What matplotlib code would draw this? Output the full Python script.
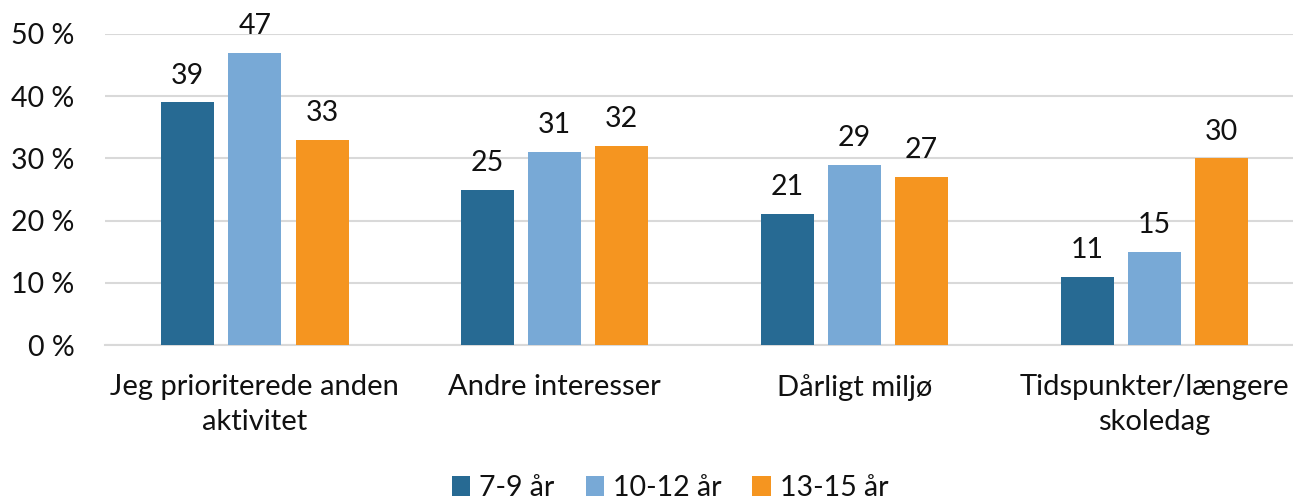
import matplotlib.pyplot as plt
import numpy as np

categories = ['Jeg prioriterede anden\naktivitet', 'Andre interesser',
              'Dårligt miljø', 'Tidspunkter/længere\nskoledag']
series_names = ['7-9 år', '10-12 år', '13-15 år']
age_7_9 = [39, 25, 21, 11]
age_10_12 = [47, 31, 29, 15]
age_13_15 = [33, 32, 27, 30]
colors = ['#276a93', '#78a9d6', '#f59520']

plt.rcParams['font.family'] = ['Lato', 'DejaVu Sans']

fig = plt.figure(figsize=(12.93, 5.0), dpi=100)
ax = fig.add_axes([105 / 1293, 1 - 345 / 500, 1 - 105 / 1293, (345 - 34) / 500])

x = np.arange(len(categories))
width = 0.177
step = 0.224
for i, (vals, name) in enumerate(zip([age_7_9, age_10_12, age_13_15], series_names)):
    bars = ax.bar(x + (i - 1) * step, vals, width, color=colors[i], label=name,
                  zorder=3)
    for b, v in zip(bars, vals):
        ax.annotate(str(v), (b.get_x() + b.get_width() / 2, v),
                    xytext=(0, 10), textcoords='offset points',
                    ha='center', va='bottom', fontsize=20.5, color='#111111')

ax.set_ylim(0, 50)
ax.set_xlim(-0.5, 3.463)
ax.set_yticks(range(0, 51, 10))
ax.set_yticklabels(['{} %'.format(v) for v in range(0, 51, 10)])
ax.set_xticks(x)
ax.set_xticklabels(categories, linespacing=1.4)
ax.tick_params(axis='y', length=0, labelsize=20.5, colors='#111111', pad=22)
ax.tick_params(axis='x', length=0, labelsize=21, colors='#111111', pad=21)
ax.grid(axis='y', color='#d9d9d9', linewidth=1.5, zorder=0)
for s in ['top', 'right', 'left']:
    ax.spines[s].set_visible(False)
ax.spines['bottom'].set_color('#d9d9d9')
ax.spines['bottom'].set_linewidth(1.5)

fig.legend(loc='center', bbox_to_anchor=(670 / 1293, 1 - 488 / 500), ncol=3,
           frameon=False, fontsize=20.5, handlelength=0.65, handleheight=0.65,
           handletextpad=0.3, columnspacing=1.1, labelcolor='#111111')

fig.savefig('out.png', dpi=100)
